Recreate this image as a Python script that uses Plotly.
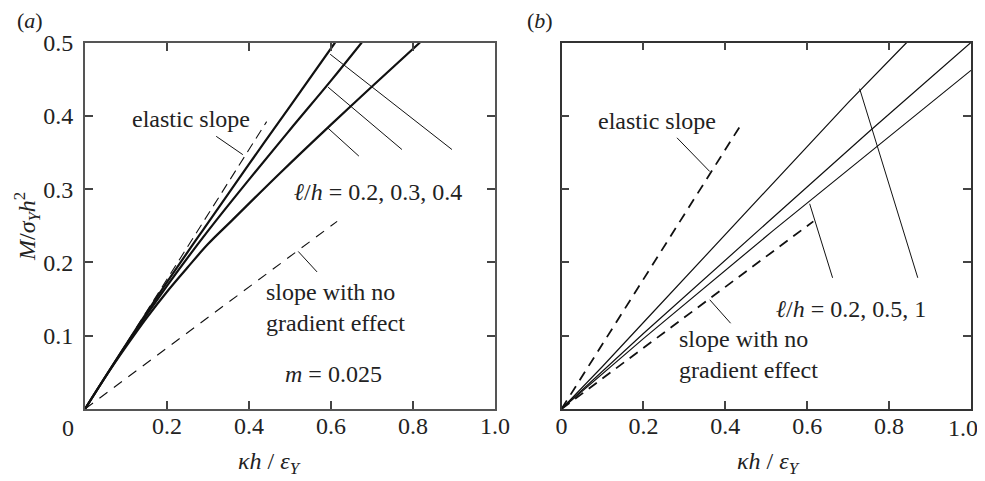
import plotly.graph_objects as go

# ---------------- data ----------------
# panel (a): m = 0.025, l/h = 0.2, 0.3, 0.4
a_lh02_x = [0, 0.1, 0.2, 0.3, 0.4, 0.5, 0.61]
a_lh02_y = [0, 0.088, 0.173, 0.254, 0.334, 0.413, 0.5]
a_lh03_x = [0, 0.1, 0.2, 0.3, 0.4, 0.5, 0.6, 0.675]
a_lh03_y = [0, 0.087, 0.168, 0.243, 0.313, 0.381, 0.448, 0.5]
a_lh04_x = [0, 0.05, 0.1, 0.15, 0.2, 0.25, 0.3, 0.358, 0.476, 0.6, 0.7, 0.817]
a_lh04_y = [0, 0.044, 0.085, 0.124, 0.160, 0.193, 0.225, 0.257, 0.322, 0.388, 0.440, 0.5]

# panel (b): l/h = 0.2, 0.5, 1
b_lh1_x = [0, 0.1, 0.2, 0.3, 0.4, 0.5, 0.6, 0.7, 0.843]
b_lh1_y = [0, 0.058, 0.118, 0.178, 0.238, 0.297, 0.357, 0.418, 0.5]
b_lh05_x = [0, 0.2, 0.5, 0.75, 1.0]
b_lh05_y = [0, 0.103, 0.253, 0.378, 0.5]
b_lh02_x = [0, 0.2, 0.516, 0.77, 1.0]
b_lh02_y = [0, 0.096, 0.243, 0.358, 0.462]

# reference slopes (both panels)
elastic_x = [0, 0.443]
elastic_y = [0, 0.392]
nograd_x = [0, 0.615]
nograd_y = [0, 0.256]

# leader lines [x0, y0, x1, y1]
a_leaders = [
    [0.320, 0.372, 0.385, 0.347],   # elastic slope
    [0.598, 0.484, 0.895, 0.354],
    [0.593, 0.439, 0.773, 0.354],
    [0.593, 0.383, 0.668, 0.345],
    [0.520, 0.215, 0.566, 0.187],   # no gradient
]
b_leaders = [
    [0.282, 0.370, 0.362, 0.324],   # elastic slope
    [0.728, 0.437, 0.870, 0.179],
    [0.606, 0.280, 0.662, 0.179],
    [0.362, 0.149, 0.413, 0.117],   # no gradient
]

a_xticks = [0.2, 0.4, 0.6, 0.8, 1.0]
a_xticktext = ["0.2", "0.4", "0.6", "0.8", "1.0"]
b_xticks = [0, 0.2, 0.4, 0.6, 0.8, 1.0]
b_xticktext = ["0", "0.2", "0.4", "0.6", "0.8", ""]   # last label drawn below, nudged inside
b_last_label = "1.0"
yticks = [0.1, 0.2, 0.3, 0.4, 0.5]
yticktext = ["0.1", "0.2", "0.3", "0.4", "0.5"]

# ---------------- figure ----------------
# the page body has an 8px margin, so the figure is sized to fit the window
OFF = 8
W, H = 985 - OFF, 481 - OFF
FONT = "Liberation Serif"
TXT = "#222222"
FS = 24

def px(x):   # window pixel x -> paper x
    return (x - OFF) / W

def py(y):   # window pixel y -> paper y
    return 1 - (y - OFF) / H

fig = go.Figure()

def add_line(x, y, xa, ya, width, dash="solid", shape="linear"):
    fig.add_trace(go.Scatter(x=x, y=y, xaxis=xa, yaxis=ya, mode="lines",
                             line=dict(color="#111111", width=width, dash=dash, shape=shape),
                             showlegend=False, hoverinfo="skip"))

# panel a
add_line(elastic_x, elastic_y, "x", "y", 1.1, "10px,6px")
add_line(nograd_x, nograd_y, "x", "y", 1.1, "10px,8px")
add_line(a_lh02_x, a_lh02_y, "x", "y", 2.2, shape="spline")
add_line(a_lh03_x, a_lh03_y, "x", "y", 2.2, shape="spline")
add_line(a_lh04_x, a_lh04_y, "x", "y", 2.2, shape="spline")

# panel b
add_line(elastic_x, elastic_y, "x2", "y2", 1.8, "10px,7px")
add_line(nograd_x, nograd_y, "x2", "y2", 1.8, "10px,7px")
add_line(b_lh1_x, b_lh1_y, "x2", "y2", 1.2)
add_line(b_lh05_x, b_lh05_y, "x2", "y2", 1.2)
add_line(b_lh02_x, b_lh02_y, "x2", "y2", 1.2)

shapes = []
for l in a_leaders:
    shapes.append(dict(type="line", xref="x", yref="y", x0=l[0], y0=l[1], x1=l[2], y1=l[3],
                       line=dict(color="#111111", width=1)))
for l in b_leaders:
    shapes.append(dict(type="line", xref="x2", yref="y2", x0=l[0], y0=l[1], x1=l[2], y1=l[3],
                       line=dict(color="#111111", width=1)))

ydom = [py(409), py(42.5)]
axis_common = dict(range=[0, 1.0], showgrid=False, zeroline=False, showline=True,
                   mirror="ticks", ticks="inside", ticklen=8, tickwidth=1.5,
                   tickcolor="#444444", automargin=False, ticklabelstandoff=-6,
                   ticklabeloverflow="allow",
                   tickfont=dict(family=FONT, size=FS, color=TXT))
yaxis_common = dict(range=[0, 0.5], showgrid=False, zeroline=False, showline=True,
                    mirror="ticks", ticks="inside", ticklen=8, tickwidth=1.5,
                    tickcolor="#444444", automargin=False, ticklabelstandoff=5,
                    tickfont=dict(family=FONT, size=FS, color=TXT))

def ann(text, x, y, xref="paper", yref="paper", size=FS, xanchor="center", yanchor="middle",
        textangle=0, xshift=0, yshift=0, align="center"):
    return dict(text=text, x=x, y=y, xref=xref, yref=yref, showarrow=False,
                font=dict(family=FONT, size=size, color=TXT), xanchor=xanchor,
                yanchor=yanchor, textangle=textangle, xshift=xshift, yshift=yshift,
                align=align, borderpad=0)

annotations = [
    ann("(<i>a</i>)", px(30), py(21), size=22),
    ann("(<i>b</i>)", px(540), py(21), size=22),
    ann("<i>M</i>/<i>σ</i><sub><i>Y</i></sub><i>h</i><sup>2</sup>", px(27), py(227),
        textangle=-90),
    ann("<i>κh</i> / <i>ε</i><sub><i>Y</i></sub>", px(269), py(463)),
    ann("<i>κh</i> / <i>ε</i><sub><i>Y</i></sub>", px(768), py(463)),
    ann("0", 0, 0, xref="x", yref="y", xshift=-17, yshift=-19),
    ann(b_last_label, 1.0, 0, xref="x2", yref="y2", xanchor="right", xshift=8, yshift=-19),
    # panel a texts
    ann("elastic slope", 0.259, 0.395, xref="x", yref="y"),
    ann("<i>ℓ</i>/<i>h</i> = 0.2, 0.3, 0.4", 0.715, 0.296, xref="x", yref="y"),
    ann("slope with no<br>gradient effect", 0.439, 0.138, xref="x", yref="y",
        xanchor="left", align="left"),
    ann("<i>m</i> = 0.025", 0.605, 0.048, xref="x", yref="y"),
    # panel b texts
    ann("elastic slope", 0.233, 0.393, xref="x2", yref="y2"),
    ann("<i>ℓ</i>/<i>h</i> = 0.2, 0.5, 1", 0.706, 0.137, xref="x2", yref="y2"),
    ann("slope with no<br>gradient effect", 0.284, 0.074, xref="x2", yref="y2",
        xanchor="left", align="left"),
]

fig.update_layout(
    width=W, height=H,
    margin=dict(l=0, r=0, t=0, b=0),
    paper_bgcolor="white", plot_bgcolor="white",
    showlegend=False,
    xaxis=dict(axis_common, domain=[px(85), px(495)], anchor="y",
               tickvals=a_xticks, ticktext=a_xticktext, linecolor="#555555", linewidth=2),
    yaxis=dict(yaxis_common, domain=ydom, anchor="x",
               tickvals=yticks, ticktext=yticktext, linecolor="#555555", linewidth=2),
    xaxis2=dict(axis_common, domain=[px(561.5), px(971)], anchor="y2",
                tickvals=b_xticks, ticktext=b_xticktext, linecolor="#333333", linewidth=1.5),
    yaxis2=dict(yaxis_common, domain=ydom, anchor="x2",
                tickvals=yticks, showticklabels=False, linecolor="#333333", linewidth=1.5),
    shapes=shapes,
    annotations=annotations,
)

fig.write_html("out.html")
